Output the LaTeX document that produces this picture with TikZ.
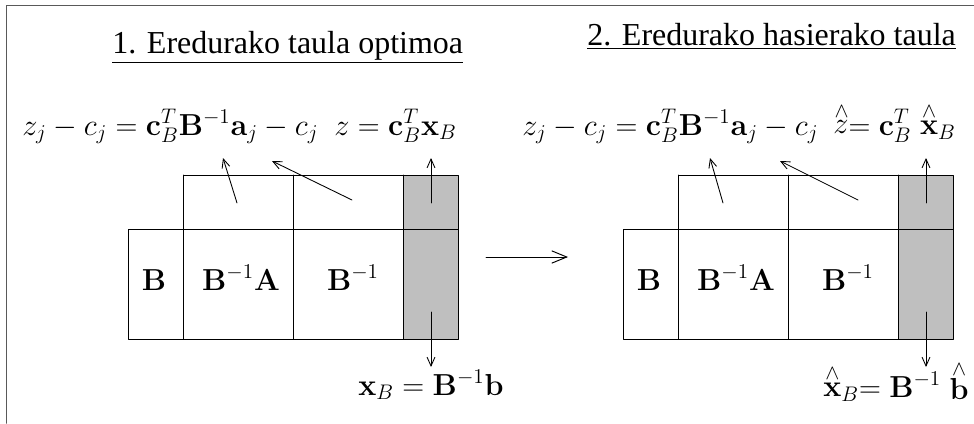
\documentclass[tikz,border=0pt]{standalone}
\usepackage[no-math]{fontspec}
\setmainfont{Liberation Serif}
\usetikzlibrary{arrows.meta}
\begin{document}
\begin{tikzpicture}[x=0.02cm, y=-0.02cm, line cap=round, line join=round, >={Straight Barb[length=5pt,width=4.5pt]}, font=\fontsize{18.2}{22}\selectfont]

	% Estiloak: taulako marrak, itzaleko zutabea, geziak eta testuak
	\tikzset{
		marra/.style={line width=0.55pt},
		itzala/.style={fill=gray!50},
		gezia/.style={->, line width=0.5pt},
		testua/.style={anchor=base west, inner sep=0pt},
		gelaxka/.style={anchor=base, inner sep=0pt}
	}

	\useasboundingbox (0,0) rectangle (974,423);

	% Kanpoko markoa (ezkerra eta goia)
	\draw[black!65, line width=1.1pt] (6.5,423) -- (6.5,5.5) -- (974,5.5);

	% ----------------------------------------------------
	% 1. TAULA (ezkerrean)
	% ----------------------------------------------------
	\node[testua] (izen1) at (112,53) {\underline{1. Eredurako taula optimoa}};

	% Taularen marrak
	\fill[itzala] (403,175) rectangle (458,339); % xB zutabea
	\draw[marra] (183,175) rectangle (458,229);
	\draw[marra] (128,229) rectangle (458,339);
	\draw[marra] (183,175) -- (183,339);
	\draw[marra] (293,175) -- (293,339);
	\draw[marra] (403,175) -- (403,339);

	% Gelaxken edukia
	\node[gelaxka] (B1) at (154,290) {$\mathbf{B}$};
	\node[gelaxka] (BA1) at (241,290) {$\mathbf{B}^{-1}\mathbf{A}$};
	\node[gelaxka] (Bi1) at (353,290) {$\mathbf{B}^{-1}$};

	% Formulak
	\node[testua] (zc1) at (22,135) {$z_j-c_j=\mathbf{c}_B^T\mathbf{B}^{-1}\mathbf{a}_j-c_j$};
	\node[testua] (z1) at (334,135) {$z=\mathbf{c}_B^T\mathbf{x}_B$};
	\node[testua] (xB1) at (358,395) {$\mathbf{x}_B=\mathbf{B}^{-1}\mathbf{b}$};

	% Geziak
	\coordinate (p1) at (237,203); \coordinate (q1) at (223,158);
	\coordinate (p2) at (352,200); \coordinate (q2) at (272,161);
	\coordinate (p3) at (431,203); \coordinate (q3) at (431,158);
	\coordinate (p4) at (431,312); \coordinate (q4) at (431,367);
	\draw[gezia] (p1) -- (q1);
	\draw[gezia] (p2) -- (q2);
	\draw[gezia] (p3) -- (q3);
	\draw[gezia] (p4) -- (q4);

	% ----------------------------------------------------
	% Bi taulen arteko gezia
	% ----------------------------------------------------
	\coordinate (g1) at (486,257);
	\coordinate (g2) at (568,257);
	\draw[line width=0.55pt, -{Straight Barb[length=8.5pt,width=7pt]}] (g1) -- (g2);

	% ----------------------------------------------------
	% 2. TAULA (eskuinean, 495 unitate lekualdatuta)
	% ----------------------------------------------------
	\def\dx{495}
	\node[testua] (izen2) at (587,45) {\underline{2. Eredurako hasierako taula}};

	\fill[itzala] (403+\dx,175) rectangle (458+\dx,339);
	\draw[marra] (183+\dx,175) rectangle (458+\dx,229);
	\draw[marra] (128+\dx,229) rectangle (458+\dx,339);
	\draw[marra] (183+\dx,175) -- (183+\dx,339);
	\draw[marra] (293+\dx,175) -- (293+\dx,339);
	\draw[marra] (403+\dx,175) -- (403+\dx,339);

	\node[gelaxka] (B2) at (154+\dx,290) {$\mathbf{B}$};
	\node[gelaxka] (BA2) at (241+\dx,290) {$\mathbf{B}^{-1}\mathbf{A}$};
	\node[gelaxka] (Bi2) at (353+\dx,290) {$\mathbf{B}^{-1}$};

	\node[testua] (zc2) at (522,135) {$z_j-c_j=\mathbf{c}_B^T\mathbf{B}^{-1}\mathbf{a}_j-c_j$};
	\node[testua] (z2) at (833,135) {$\stackrel{\wedge}{z}=\mathbf{c}_B^T\stackrel{\wedge}{\mathbf{x}}_B$};
	\node[testua] (xB2) at (823,397) {$\stackrel{\wedge}{\mathbf{x}}_B=\mathbf{B}^{-1}\stackrel{\wedge}{\mathbf{b}}$};

	\coordinate (r1) at (723,203); \coordinate (s1) at (710,158);
	\coordinate (r2) at (858,200); \coordinate (s2) at (780,161);
	\coordinate (r3) at (926,203); \coordinate (s3) at (926,158);
	\coordinate (r4) at (926,312); \coordinate (s4) at (926,367);
	\draw[gezia] (r1) -- (s1);
	\draw[gezia] (r2) -- (s2);
	\draw[gezia] (r3) -- (s3);
	\draw[gezia] (r4) -- (s4);

\end{tikzpicture}
\end{document}
